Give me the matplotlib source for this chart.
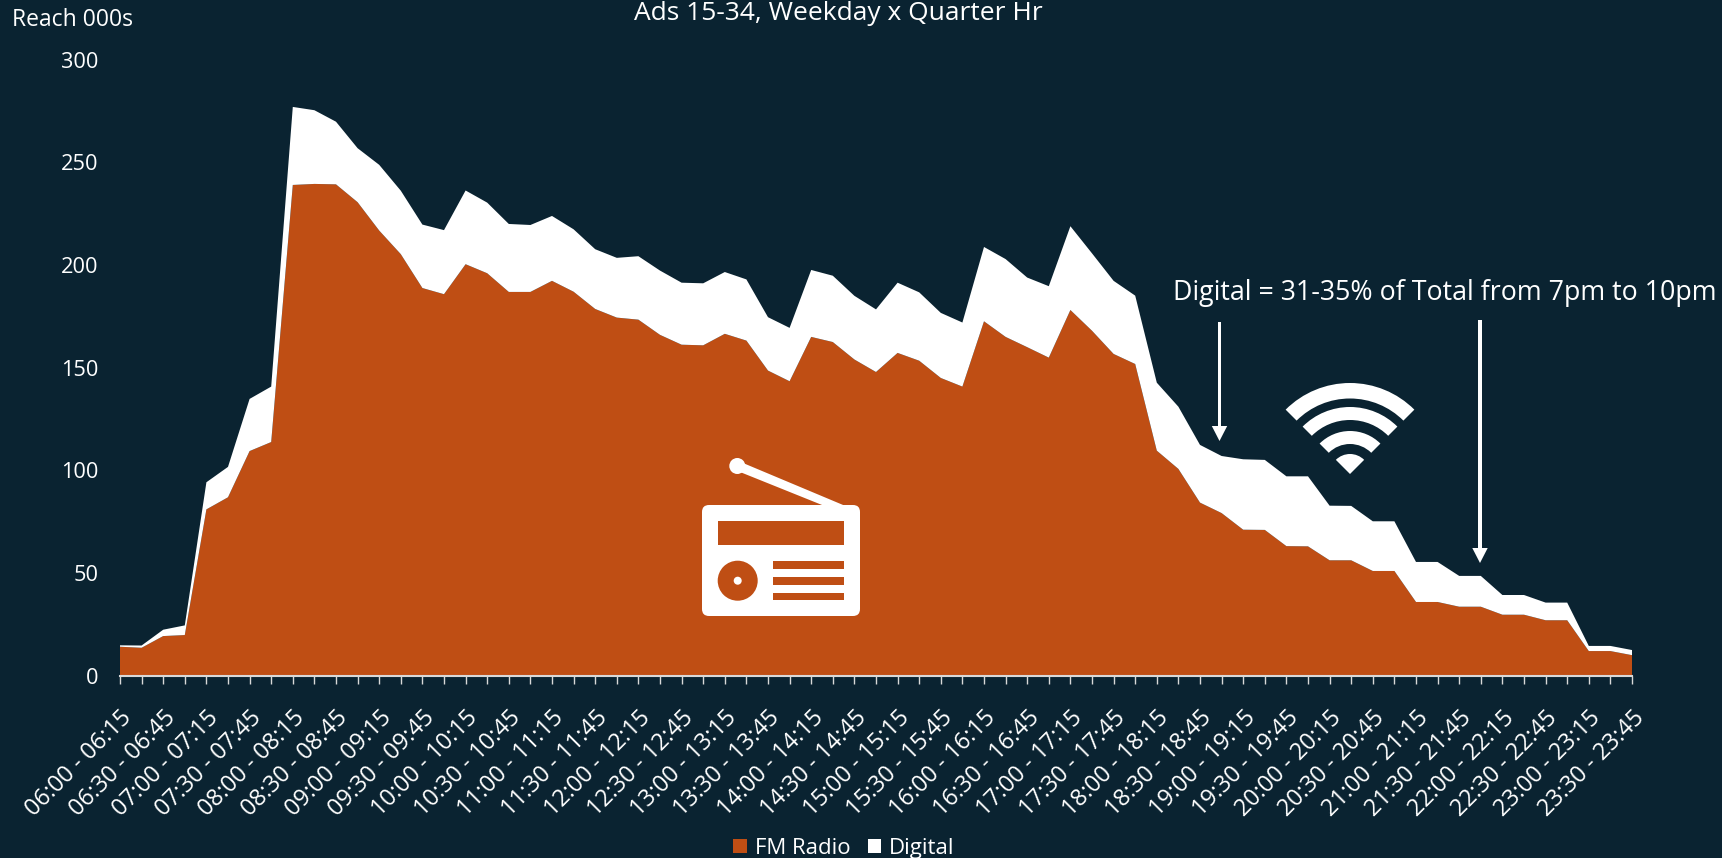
import matplotlib
matplotlib.use('Agg')
import matplotlib.pyplot as plt
from matplotlib.patches import Circle, FancyBboxPatch, Polygon, Rectangle, Wedge

# data, one value per quarter hour slot
slots = ['06:00 - 06:15', '06:15 - 06:30', '06:30 - 06:45', '06:45 - 07:00',
         '07:00 - 07:15', '07:15 - 07:30', '07:30 - 07:45', '07:45 - 08:00',
         '08:00 - 08:15', '08:15 - 08:30', '08:30 - 08:45', '08:45 - 09:00',
         '09:00 - 09:15', '09:15 - 09:30', '09:30 - 09:45', '09:45 - 10:00',
         '10:00 - 10:15', '10:15 - 10:30', '10:30 - 10:45', '10:45 - 11:00',
         '11:00 - 11:15', '11:15 - 11:30', '11:30 - 11:45', '11:45 - 12:00',
         '12:00 - 12:15', '12:15 - 12:30', '12:30 - 12:45', '12:45 - 13:00',
         '13:00 - 13:15', '13:15 - 13:30', '13:30 - 13:45', '13:45 - 14:00',
         '14:00 - 14:15', '14:15 - 14:30', '14:30 - 14:45', '14:45 - 15:00',
         '15:00 - 15:15', '15:15 - 15:30', '15:30 - 15:45', '15:45 - 16:00',
         '16:00 - 16:15', '16:15 - 16:30', '16:30 - 16:45', '16:45 - 17:00',
         '17:00 - 17:15', '17:15 - 17:30', '17:30 - 17:45', '17:45 - 18:00',
         '18:00 - 18:15', '18:15 - 18:30', '18:30 - 18:45', '18:45 - 19:00',
         '19:00 - 19:15', '19:15 - 19:30', '19:30 - 19:45', '19:45 - 20:00',
         '20:00 - 20:15', '20:15 - 20:30', '20:30 - 20:45', '20:45 - 21:00',
         '21:00 - 21:15', '21:15 - 21:30', '21:30 - 21:45', '21:45 - 22:00',
         '22:00 - 22:15', '22:15 - 22:30', '22:30 - 22:45', '22:45 - 23:00',
         '23:00 - 23:15', '23:15 - 23:30', '23:30 - 23:45']

fm_radio = [14.1, 13.6, 19.3, 19.8, 81.0, 86.9, 109.4, 113.8,
            239.0, 239.5, 239.3, 230.6, 216.8, 205.3, 188.8, 185.8,
            200.4, 196.0, 186.9, 186.9, 192.3, 187.0, 178.6, 174.4,
            173.4, 166.0, 161.2, 160.9, 166.5, 163.2, 148.6, 143.4,
            165.0, 162.5, 154.0, 147.9, 157.2, 153.4, 145.0, 140.8,
            172.6, 165.0, 160.0, 154.9, 178.1, 168.0, 156.7, 151.8,
            109.6, 100.7, 84.3, 79.2, 71.1, 71.0, 63.1, 63.0,
            56.2, 56.2, 51.0, 51.0, 35.9, 35.9, 33.6, 33.6,
            29.7, 29.7, 27.0, 27.0, 12.0, 12.0, 10.0]

digital = [0.7, 1.1, 3.1, 4.7, 13.2, 14.8, 25.4, 27.0,
           38.0, 35.9, 30.5, 26.3, 32.0, 30.9, 30.9, 31.2,
           35.9, 34.4, 33.1, 32.6, 31.6, 30.4, 29.1, 29.1,
           30.9, 31.3, 30.2, 30.2, 30.1, 29.8, 26.0, 26.0,
           32.6, 32.3, 31.0, 30.5, 34.2, 33.3, 31.7, 31.2,
           36.2, 37.9, 33.9, 34.8, 40.8, 37.7, 35.6, 33.3,
           33.1, 30.3, 28.1, 27.8, 34.3, 34.1, 34.0, 34.1,
           26.6, 26.5, 24.2, 24.2, 19.5, 19.5, 15.0, 15.0,
           9.6, 9.6, 8.6, 8.6, 2.5, 2.5, 2.5]

y_ticks = [0, 50, 100, 150, 200, 250, 300]

BG = '#0A2331'
ORANGE = '#BF4E14'
WHITE = '#FFFFFF'
W, H = 1722, 858

plt.rcParams['font.family'] = ['Open Sans', 'DejaVu Sans']

fig = plt.figure(figsize=(W / 100, H / 100), dpi=100, facecolor=BG)

# plot area taken from the pixels of the reference
ax = fig.add_axes([120 / W, 1 - 675.7 / H, 1512 / W, 616 / H], facecolor=BG)
x = list(range(len(slots)))
ax.stackplot(x, fm_radio, digital, colors=[ORANGE, WHITE], labels=['FM Radio', 'Digital'], linewidth=0)
ax.set_xlim(0, len(slots) - 1)
ax.set_ylim(0, 300)

for s in ['top', 'left', 'right']:
    ax.spines[s].set_visible(False)
ax.spines['bottom'].set_color('#D9D9D9')
ax.spines['bottom'].set_linewidth(1.5)

ax.set_yticks(y_ticks)
ax.tick_params(axis='y', length=0, labelsize=15.7, labelcolor=WHITE, pad=15.5)
ax.set_xticks(x)
ax.set_xticklabels([s if i % 2 == 0 else '' for i, s in enumerate(slots)],
                   rotation=45, ha='right', rotation_mode='anchor')
ax.tick_params(axis='x', length=6, width=1, color='#D9D9D9', labelsize=16.8, labelcolor=WHITE, pad=16)

fig.legend(loc='center', bbox_to_anchor=(844 / W, 1 - 848.5 / H), ncol=2, frameon=False, fontsize=16,
           labelcolor=WHITE, handlelength=0.6, handleheight=0.6, handletextpad=0.35, columnspacing=0.8,
           borderpad=0)

# pixel overlay for the texts, arrows and icons
ov = fig.add_axes([0, 0, 1, 1], facecolor='none')
ov.set_xlim(0, W)
ov.set_ylim(H, 0)
ov.axis('off')

ov.text(838.5, 19.5, 'Ads 15-34, Weekday x Quarter Hr', color=WHITE, fontsize=19, ha='center', va='baseline')
ov.text(12, 20, 'Reach 000s', color=WHITE, fontsize=16.5, ha='left', va='center')
ov.text(1173, 293, 'Digital = 31-35% of Total from 7pm to 10pm', color=WHITE, fontsize=19.3, ha='left', va='center')

# arrows
for ax_x, y0, y1 in [(1219.5, 322, 441), (1480, 320, 563)]:
    ov.add_patch(Rectangle((ax_x - 1.6, y0), 3.2, y1 - y0 - 14, color=WHITE, lw=0))
    ov.add_patch(Polygon([(ax_x - 7.7, y1 - 15), (ax_x + 7.7, y1 - 15), (ax_x, y1)], color=WHITE, lw=0))

# radio icon
ov.add_patch(FancyBboxPatch((709, 512), 144, 97, boxstyle='round,pad=7,rounding_size=7', fc=WHITE, ec='none'))
ov.add_patch(Rectangle((717.7, 521.3), 126.6, 24, color=ORANGE, lw=0))
for y0, y1 in [(561, 568.7), (576.7, 584.7), (592.7, 600.3)]:
    ov.add_patch(Rectangle((773, y0), 71.3, y1 - y0, color=ORANGE, lw=0))
ov.add_patch(Circle((737.7, 580.7), 20, color=ORANGE, lw=0))
ov.add_patch(Circle((737.7, 580.7), 4, color=WHITE, lw=0))
ov.add_patch(Circle((737.3, 466), 8, color=WHITE, lw=0))
ov.add_patch(Polygon([(743, 463), (844.3, 505.5), (823.3, 505.5), (740, 472)], color=WHITE, lw=0))

# wifi icon
for r_out, band in [(91, 15.5), (67, 13), (43, 13), (20, 20)]:
    ov.add_patch(Wedge((1350, 474), r_out, 225, 315, width=band, color=WHITE, lw=0))

fig.savefig('out.png', dpi=100, facecolor=BG)
